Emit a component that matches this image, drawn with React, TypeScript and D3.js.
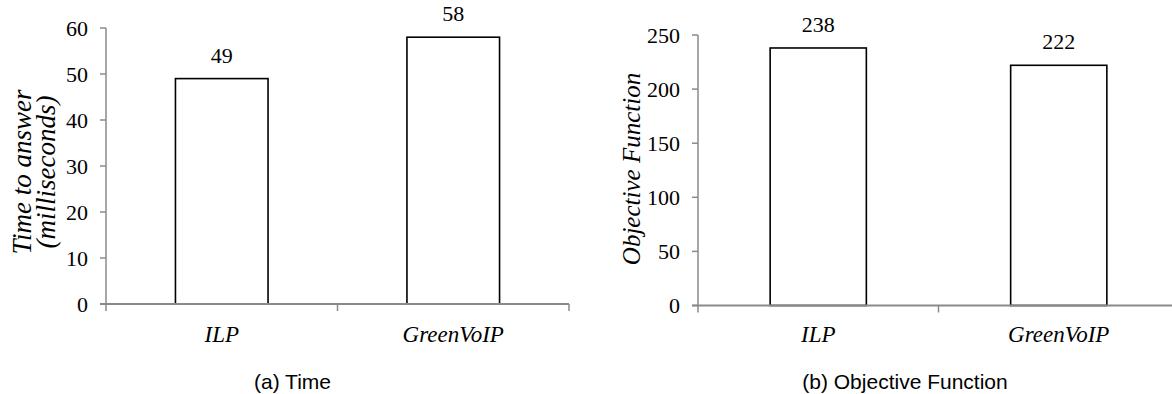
import React from "react";
import * as d3 from "d3";

const categories = ["ILP", "GreenVoIP"];
const timeValues = [49, 58];
const objValues = [238, 222];
const timeTicks = [0, 10, 20, 30, 40, 50, 60];
const objTicks = [0, 50, 100, 150, 200, 250];

const SERIF = "Liberation Serif";
const SANS = "Liberation Sans";
const AXIS = "#8a8a8a";

type PanelProps = {
  values: number[];
  ticks: number[];
  domainMax: number;
  x0: number;
  x1: number;
  y0: number;
  y1: number;
  labelEnd: number;
  titleLines: string[];
  titleX: number[];
  titleY: number;
  titleSize: number;
  caption: string;
  captionX: number;
};

const serif = { fontFamily: SERIF };
const serifIt = { fontFamily: SERIF, fontStyle: "italic" as const };
const sans = { fontFamily: SANS };

function Panel(p: PanelProps) {
  const x = d3
    .scaleBand<string>()
    .domain(categories)
    .range([p.x0, p.x1])
    .paddingInner(0.6)
    .paddingOuter(0.3);
  const y = d3.scaleLinear().domain([0, p.domainMax]).range([p.y0, p.y1]);
  const step = x.step();
  const boundaries = [p.x0, ...categories.map((_, i) => p.x0 + step * (i + 1))];
  return (
    <g>
      {categories.map((c, i) => (
        <rect
          key={c}
          x={x(c)}
          y={y(p.values[i])}
          width={x.bandwidth()}
          height={y(0) - y(p.values[i])}
          fill="#fff"
          stroke="#000"
          strokeWidth={1.6}
        />
      ))}
      {categories.map((c, i) => (
        <text
          key={c + "v"}
          x={(x(c) as number) + x.bandwidth() / 2}
          y={y(p.values[i]) - 16}
          textAnchor="middle"
          style={serif}
          fontSize={22}
          fill="#000"
        >
          {p.values[i]}
        </text>
      ))}
      <line x1={p.x0} x2={p.x0} y1={y(0)} y2={y(p.domainMax)} stroke={AXIS} strokeWidth={1.5} />
      {p.ticks.map((t) => (
        <g key={t}>
          <line x1={p.x0 - 6} x2={p.x0} y1={y(t)} y2={y(t)} stroke={AXIS} strokeWidth={1.5} />
          <text
            x={p.labelEnd}
            y={y(t) + 7.5}
            textAnchor="end"
            style={serif}
            fontSize={22}
            fill="#000"
          >
            {t}
          </text>
        </g>
      ))}
      <line x1={p.x0 - 6} x2={p.x1} y1={y(0)} y2={y(0)} stroke={AXIS} strokeWidth={1.8} />
      {boundaries.map((b, i) => (
        <line key={i} x1={b} x2={b} y1={y(0)} y2={y(0) + 7} stroke={AXIS} strokeWidth={1.5} />
      ))}
      {categories.map((c) => (
        <text
          key={c + "c"}
          x={(x(c) as number) + x.bandwidth() / 2}
          y={342}
          textAnchor="middle"
          style={serifIt}
          fontSize={23}
          fill="#000"
        >
          {c}
        </text>
      ))}
      {p.titleLines.map((l, i) => (
        <text
          key={l}
          transform={`translate(${p.titleX[i]},${p.titleY}) rotate(-90)`}
          textAnchor="middle"
          style={serifIt}
          fontSize={p.titleSize}
          fill="#000"
        >
          {l}
        </text>
      ))}
      <text x={p.captionX} y={389} textAnchor="middle" style={sans} fontSize={21} fill="#000">
        {p.caption}
      </text>
    </g>
  );
}

export default function App() {
  return (
    <div style={{ position: "absolute", left: 0, top: 0 }}>
      <svg width={1172} height={394} style={{ display: "block", background: "#fff" }}>
        <Panel
          values={timeValues}
          ticks={timeTicks}
          domainMax={60}
          x0={106}
          x1={569}
          y0={304}
          y1={28}
          labelEnd={88}
          titleLines={["Time to answer", "(milliseconds)"]}
          titleX={[31, 55]}
          titleY={172}
          titleSize={27}
          caption="(a) Time"
          captionX={292.5}
        />
        <Panel
          values={objValues}
          ticks={objTicks}
          domainMax={250}
          x0={698}
          x1={1179}
          y0={305.5}
          y1={35}
          labelEnd={680}
          titleLines={["Objective Function"]}
          titleX={[640]}
          titleY={169}
          titleSize={25}
          caption="(b) Objective Function"
          captionX={905}
        />
      </svg>
    </div>
  );
}
